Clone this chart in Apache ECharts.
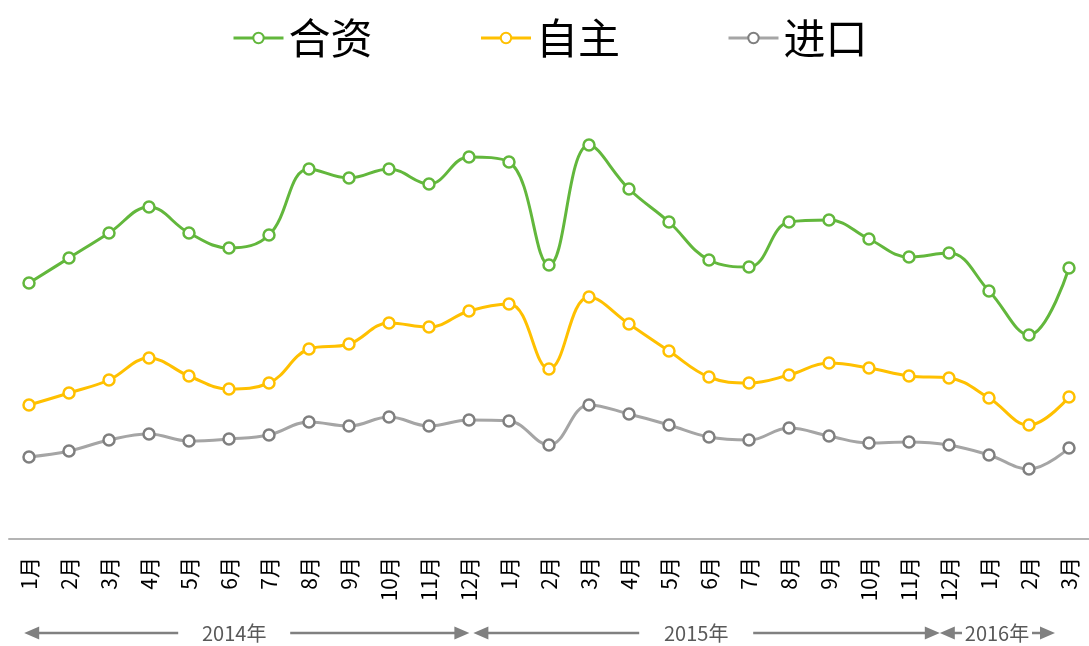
<!DOCTYPE html>
<html>
<head>
<meta charset="utf-8">
<script src="https://cdn.jsdelivr.net/npm/echarts@6/dist/echarts.min.js"></script>
<style>
  html, body { margin: 0; padding: 0; background: #fff; }
  #chart { width: 1089px; height: 646px; }
</style>
</head>
<body>
<div id="chart"></div>
<script>
// 月份（2014.1 - 2016.3）
const months = ['1月','2月','3月','4月','5月','6月','7月','8月','9月','10月','11月','12月',
  '1月','2月','3月','4月','5月','6月','7月','8月','9月','10月','11月','12月',
  '1月','2月','3月']
const hezi = [25.6, 28.1, 30.6, 33.2, 30.6, 29.1, 30.4, 37.0, 36.1, 37.0, 35.5, 38.2,
  37.7, 27.4, 39.4, 35.0, 31.7, 27.9, 27.2, 31.7, 31.9, 30.0, 28.2, 28.6,
  24.8, 20.4, 27.1]
const zizhu = [13.4, 14.6, 15.9, 18.1, 16.3, 15.0, 15.6, 19.0, 19.5, 21.6, 21.2, 22.8,
  23.5, 17.0, 24.2, 21.5, 18.8, 16.2, 15.6, 16.4, 17.6, 17.1, 16.3, 16.1,
  14.1, 11.4, 14.2]
const jinkou = [8.2, 8.8, 9.9, 10.5, 9.8, 10.0, 10.4, 11.7, 11.3, 12.2, 11.3, 11.9,
  11.8, 9.4, 13.4, 12.5, 11.4, 10.2, 9.9, 11.1, 10.3, 9.6, 9.7, 9.4,
  8.4, 7.0, 9.1]
const years = ['2014年', '2015年', '2016年']
// 年份箭头起止、文字位置（按类目序号）
const yearSpans = [[-0.12, 11.01], [11.11, 22.77], [22.77, 25.65]]
const yearTextAt = [5.13, 16.68, 24.2]
const yearGap = [56, 57, 35]

const myChart = echarts.init(document.getElementById('chart'))

function mkSeries(name, data, color, border) {
  return {
    name: name,
    type: 'line',
    data: data,
    smooth: 0.4,
    symbol: 'circle',
    symbolSize: 11,
    lineStyle: { color: color, width: 3 },
    itemStyle: { color: '#fff', borderColor: border, borderWidth: 2.5 },
    emphasis: { disabled: true }
  }
}

const option = {
  animation: false,
  color: ['#62B73C', '#FFC000', '#A5A5A5'],
  legend: {
    top: 12,
    left: 227,
    itemWidth: 50,
    itemHeight: 13,
    itemGap: 107,
    lineStyle: { width: 3 },
    textStyle: { fontSize: 42, color: '#000', fontFamily: 'Noto Sans CJK SC' },
    data: ['合资', '自主', '进口']
  },
  grid: { left: 9, width: 1086, top: 89, bottom: 107 },
  xAxis: {
    type: 'category',
    data: months,
    axisLine: { lineStyle: { color: '#B4B4B4', width: 2 } },
    axisTick: { show: false },
    axisLabel: {
      rotate: 90,
      interval: 0,
      margin: 18,
      fontSize: 21,
      color: '#000',
      fontFamily: 'Noto Sans CJK SC'
    }
  },
  yAxis: { type: 'value', min: 0, max: 45, show: false },
  series: [
    mkSeries('合资', hezi, '#62B73C', '#62B73C'),
    mkSeries('自主', zizhu, '#FFC000', '#FFC000'),
    mkSeries('进口', jinkou, '#A5A5A5', '#7F7F7F')
  ]
}
myChart.setOption(option)

// 底部年份箭头
const p0 = myChart.convertToPixel({ xAxisIndex: 0 }, 0)
const step = myChart.convertToPixel({ xAxisIndex: 0 }, 1) - p0
const ay = 633
const head = 15
const arrowColor = '#808080'
const graphics = []
years.forEach((y, i) => {
  const x0 = p0 + yearSpans[i][0] * step
  const x1 = p0 + yearSpans[i][1] * step
  const xc = p0 + yearTextAt[i] * step
  const g = yearGap[i]
  graphics.push({ type: 'line', shape: { x1: x0 + head - 1, y1: ay, x2: xc - g, y2: ay }, style: { stroke: arrowColor, lineWidth: 2.5 } })
  graphics.push({ type: 'line', shape: { x1: xc + g, y1: ay, x2: x1 - head + 1, y2: ay }, style: { stroke: arrowColor, lineWidth: 2.5 } })
  graphics.push({ type: 'polygon', shape: { points: [[x0, ay], [x0 + head, ay - 6.5], [x0 + head, ay + 6.5]] }, style: { fill: arrowColor } })
  graphics.push({ type: 'polygon', shape: { points: [[x1, ay], [x1 - head, ay - 6.5], [x1 - head, ay + 6.5]] }, style: { fill: arrowColor } })
  graphics.push({
    type: 'text', x: xc, y: ay,
    style: { text: y, fontSize: 20, fill: '#595959', fontFamily: 'Noto Sans CJK SC', align: 'center', verticalAlign: 'middle' }
  })
})
myChart.setOption({ graphic: graphics })
</script>
</body>
</html>
